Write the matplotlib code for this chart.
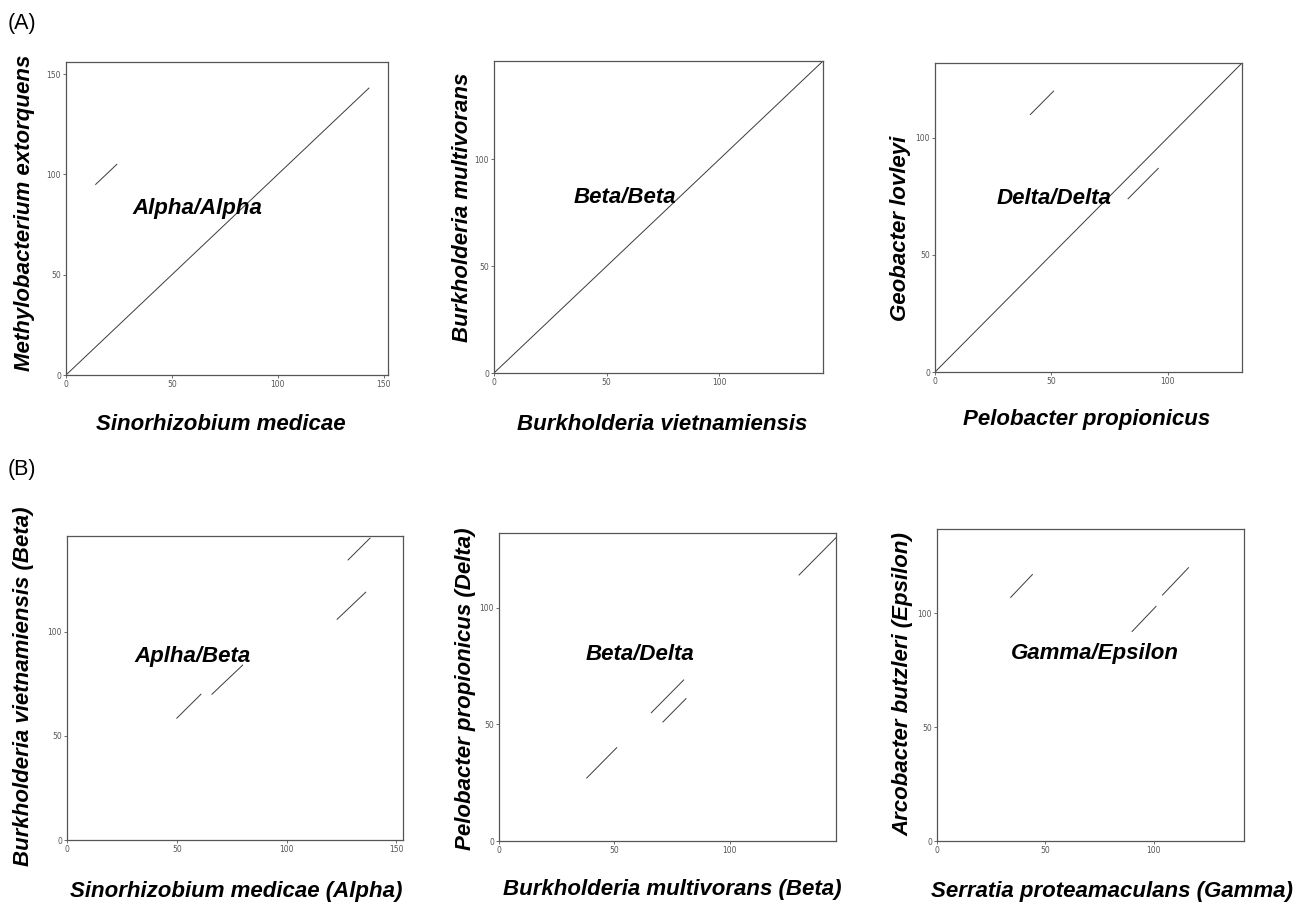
import matplotlib.pyplot as plt

# ─── Data ────────────────────────────────────────────────────────────────────

# panel A: same-class comparisons
a1_lim = (152, 156)
a1_segs = [((0, 143), (0, 143)), ((14, 24), (95, 105))]
a2_lim = (146, 146)
a2_segs = [((0, 146), (0, 146))]
a3_lim = (132, 132)
a3_segs = [((0, 132), (0, 132)), ((41, 51), (110, 120)), ((83, 96), (74, 87))]

# panel B: cross-class comparisons
b1_lim = (153, 146)
b1_segs = [((50, 61), (58.5, 70)), ((66, 80), (70, 84)),
           ((123, 136), (106, 119)), ((128, 138), (134.5, 145))]
b2_lim = (146, 132)
b2_segs = [((38, 51), (27, 40)), ((66, 80), (55, 69)),
           ((71, 81), (51, 61)), ((130, 146), (114, 130))]
b3_lim = (141.6, 137)
b3_segs = [((34, 44), (107, 117)), ((90, 101), (92, 103)),
           ((104, 116), (108, 120))]

x_labels = ['Sinorhizobium medicae', 'Burkholderia vietnamiensis', 'Pelobacter propionicus',
            'Sinorhizobium medicae (Alpha)', 'Burkholderia multivorans (Beta)',
            'Serratia proteamaculans (Gamma)']
y_labels = ['Methylobacterium extorquens', 'Burkholderia multivorans', 'Geobacter lovleyi',
            'Burkholderia vietnamiensis (Beta)', 'Pelobacter propionicus (Delta)',
            'Arcobacter butzleri (Epsilon)']
inner_labels = ['Alpha/Alpha', 'Beta/Beta', 'Delta/Delta',
                'Aplha/Beta', 'Beta/Delta', 'Gamma/Epsilon']
inner_pos = [(62, 83), (58, 82), (51, 74), (57, 88), (61, 80), (73, 82.5)]

# ─── Layout (figure pixels: left, right, top, bottom) ───────────────────────

W, H = 1306, 905
boxes = [(66, 388, 62, 375), (494, 823, 61, 373), (935, 1242, 63, 372),
         (67, 403, 536, 840), (499, 836, 533, 841), (937, 1244, 529, 841)]
xlab_pos = [(221, 424), (662, 424), (1087, 420), (236, 891), (672, 889), (1112, 891)]
ylab_pos = [(25, 213), (462, 207), (901, 228), (24, 686), (465, 689), (903, 684)]

lims = [a1_lim, a2_lim, a3_lim, b1_lim, b2_lim, b3_lim]
segs = [a1_segs, a2_segs, a3_segs, b1_segs, b2_segs, b3_segs]

fig = plt.figure(figsize=(W / 100, H / 100), dpi=100)
lab_font = dict(family='Liberation Sans', weight='bold', style='italic', size=16)

for i in range(6):
    l, r, t, b = boxes[i]
    ax = fig.add_axes([l / W, (H - b) / H, (r - l) / W, (b - t) / H])
    for xs, ys in segs[i]:
        ax.plot(xs, ys, color='#3a3a3a', linewidth=0.7)
    ax.set_xlim(0, lims[i][0])
    ax.set_ylim(0, lims[i][1])
    ax.set_xticks([v for v in (0, 50, 100, 150) if v <= lims[i][0]])
    ax.set_yticks([v for v in (0, 50, 100, 150) if v <= lims[i][1]])
    ax.tick_params(labelsize=5.5, colors='#555555', length=2.5, width=0.6, pad=1)
    for s in ax.spines.values():
        s.set_color('#555555')
        s.set_linewidth(0.9)
    ax.text(inner_pos[i][0], inner_pos[i][1], inner_labels[i],
            ha='center', va='center', **lab_font)
    fig.text(xlab_pos[i][0] / W, 1 - xlab_pos[i][1] / H, x_labels[i],
             ha='center', va='center', **lab_font)
    fig.text(ylab_pos[i][0] / W, 1 - ylab_pos[i][1] / H, y_labels[i],
             ha='center', va='center', rotation=90, **lab_font)

fig.text(8 / W, 1 - 23 / H, '(A)', family='Liberation Sans', size=15.5, ha='left', va='center')
fig.text(8 / W, 1 - 469 / H, '(B)', family='Liberation Sans', size=15.5, ha='left', va='center')

plt.savefig('out.png', dpi=100)
